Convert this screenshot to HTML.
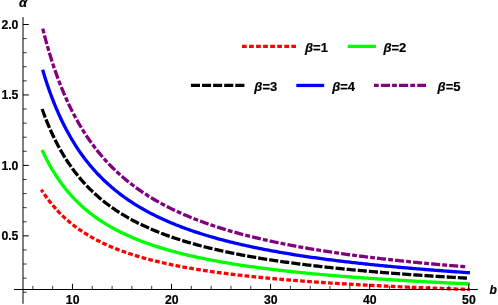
<!DOCTYPE html><html><head><meta charset="utf-8"><style>html,body{margin:0;padding:0;background:#fff}svg{display:block;will-change:transform}text{font-family:"Liberation Sans",sans-serif;font-weight:bold;fill:#000;stroke:#000;stroke-width:0.2px}</style></head><body>
<svg width="498" height="305" viewBox="0 0 498 305">
<rect width="498" height="305" fill="#fff"/>
<polyline points="41.34,189.72 43.00,192.26 44.65,194.69 46.31,197.03 47.96,199.27 49.62,201.43 51.27,203.51 52.93,205.51 54.58,207.43 56.23,209.29 57.89,211.08 59.54,212.81 61.20,214.47 62.85,216.09 64.51,217.64 66.16,219.15 67.82,220.60 69.47,222.01 71.13,223.38 72.78,224.70 74.44,225.98 76.09,227.22 77.75,228.43 79.40,229.60 81.06,230.73 82.71,231.84 84.37,232.91 86.02,233.95 87.67,234.96 89.33,235.95 90.98,236.91 92.64,237.84 94.29,238.75 95.95,239.64 97.60,240.50 99.26,241.34 100.91,242.16 102.57,242.96 104.22,243.74 105.88,244.50 107.53,245.25 109.19,245.97 110.84,246.68 112.50,247.37 114.15,248.05 115.81,248.71 117.46,249.36 119.11,249.99 120.77,250.61 122.42,251.21 124.08,251.81 125.73,252.39 127.39,252.95 129.04,253.51 130.70,254.05 132.35,254.59 134.01,255.11 135.66,255.62 137.32,256.12 138.97,256.62 140.63,257.10 142.28,257.57 143.94,258.04 145.59,258.49 147.25,258.94 148.90,259.38 150.55,259.81 152.21,260.23 153.86,260.65 155.52,261.06 157.17,261.46 158.83,261.85 160.48,262.24 162.14,262.62 163.79,262.99 165.45,263.36 167.10,263.72 168.76,264.08 170.41,264.42 172.07,264.77 173.72,265.11 175.38,265.44 177.03,265.77 178.69,266.09 180.34,266.40 181.99,266.72 183.65,267.02 185.30,267.33 186.96,267.62 188.61,267.92 190.27,268.21 191.92,268.49 193.58,268.77 195.23,269.05 196.89,269.32 198.54,269.59 200.20,269.85 201.85,270.11 203.51,270.37 205.16,270.62 206.82,270.87 208.47,271.12 210.13,271.36 211.78,271.60 213.43,271.84 215.09,272.07 216.74,272.30 218.40,272.53 220.05,272.75 221.71,272.97 223.36,273.19 225.02,273.40 226.67,273.62 228.33,273.83 229.98,274.03 231.64,274.24 233.29,274.44 234.95,274.64 236.60,274.83 238.26,275.03 239.91,275.22 241.57,275.41 243.22,275.60 244.87,275.78 246.53,275.96 248.18,276.14 249.84,276.32 251.49,276.50 253.15,276.67 254.80,276.84 256.46,277.02 258.11,277.18 259.77,277.35 261.42,277.51 263.08,277.68 264.73,277.84 266.39,278.00 268.04,278.15 269.70,278.31 271.35,278.46 273.01,278.61 274.66,278.76 276.31,278.91 277.97,279.06 279.62,279.21 281.28,279.35 282.93,279.49 284.59,279.63 286.24,279.77 287.90,279.91 289.55,280.05 291.21,280.18 292.86,280.31 294.52,280.45 296.17,280.58 297.83,280.71 299.48,280.84 301.14,280.96 302.79,281.09 304.45,281.21 306.10,281.34 307.75,281.46 309.41,281.58 311.06,281.70 312.72,281.82 314.37,281.94 316.03,282.05 317.68,282.17 319.34,282.28 320.99,282.39 322.65,282.51 324.30,282.62 325.96,282.73 327.61,282.83 329.27,282.94 330.92,283.05 332.58,283.16 334.23,283.26 335.89,283.36 337.54,283.47 339.19,283.57 340.85,283.67 342.50,283.77 344.16,283.87 345.81,283.97 347.47,284.07 349.12,284.16 350.78,284.26 352.43,284.35 354.09,284.45 355.74,284.54 357.40,284.63 359.05,284.73 360.71,284.82 362.36,284.91 364.02,285.00 365.67,285.09 367.33,285.17 368.98,285.26 370.63,285.35 372.29,285.43 373.94,285.52 375.60,285.60 377.25,285.69 378.91,285.77 380.56,285.85 382.22,285.93 383.87,286.01 385.53,286.09 387.18,286.17 388.84,286.25 390.49,286.33 392.15,286.41 393.80,286.49 395.46,286.56 397.11,286.64 398.77,286.72 400.42,286.79 402.07,286.86 403.73,286.94 405.38,287.01 407.04,287.08 408.69,287.16 410.35,287.23 412.00,287.30 413.66,287.37 415.31,287.44 416.97,287.51 418.62,287.58 420.28,287.65 421.93,287.71 423.59,287.78 425.24,287.85 426.90,287.91 428.55,287.98 430.21,288.05 431.86,288.11 433.51,288.18 435.17,288.24 436.82,288.30 438.48,288.37 440.13,288.43 441.79,288.49 443.44,288.55 445.10,288.61 446.75,288.68 448.41,288.74 450.06,288.80 451.72,288.86 453.37,288.92 455.03,288.97 456.68,289.03 458.34,289.09 459.99,289.15 461.65,289.21 463.30,289.26 464.95,289.32 466.61,289.38 468.26,289.43 469.92,289.49" fill="none" stroke="#ff0000" stroke-width="3.3" stroke-dasharray="4.72 2.26" stroke-dashoffset="1.7"/>
<polyline points="42.04,149.97 43.69,153.51 45.34,156.89 46.99,160.13 48.64,163.23 50.30,166.21 51.95,169.06 53.60,171.81 55.25,174.44 56.90,176.98 58.56,179.42 60.21,181.77 61.86,184.04 63.51,186.22 65.16,188.33 66.82,190.37 68.47,192.34 70.12,194.24 71.77,196.08 73.42,197.86 75.08,199.59 76.73,201.26 78.38,202.88 80.03,204.45 81.68,205.98 83.34,207.46 84.99,208.89 86.64,210.29 88.29,211.64 89.95,212.96 91.60,214.24 93.25,215.49 94.90,216.71 96.55,217.89 98.21,219.04 99.86,220.16 101.51,221.25 103.16,222.32 104.81,223.36 106.47,224.37 108.12,225.36 109.77,226.33 111.42,227.27 113.07,228.19 114.73,229.09 116.38,229.97 118.03,230.83 119.68,231.67 121.33,232.49 122.99,233.30 124.64,234.08 126.29,234.85 127.94,235.60 129.59,236.34 131.25,237.06 132.90,237.77 134.55,238.46 136.20,239.14 137.85,239.81 139.51,240.46 141.16,241.10 142.81,241.73 144.46,242.34 146.12,242.95 147.77,243.54 149.42,244.12 151.07,244.69 152.72,245.25 154.38,245.80 156.03,246.34 157.68,246.87 159.33,247.39 160.98,247.90 162.64,248.41 164.29,248.90 165.94,249.39 167.59,249.87 169.24,250.34 170.90,250.80 172.55,251.25 174.20,251.70 175.85,252.14 177.50,252.57 179.16,253.00 180.81,253.42 182.46,253.83 184.11,254.23 185.76,254.63 187.42,255.03 189.07,255.42 190.72,255.80 192.37,256.17 194.02,256.54 195.68,256.91 197.33,257.27 198.98,257.62 200.63,257.97 202.29,258.32 203.94,258.65 205.59,258.99 207.24,259.32 208.89,259.64 210.55,259.96 212.20,260.28 213.85,260.59 215.50,260.90 217.15,261.20 218.81,261.50 220.46,261.80 222.11,262.09 223.76,262.38 225.41,262.66 227.07,262.94 228.72,263.22 230.37,263.49 232.02,263.76 233.67,264.03 235.33,264.29 236.98,264.55 238.63,264.81 240.28,265.06 241.93,265.31 243.59,265.56 245.24,265.80 246.89,266.04 248.54,266.28 250.19,266.52 251.85,266.75 253.50,266.98 255.15,267.21 256.80,267.43 258.46,267.65 260.11,267.87 261.76,268.09 263.41,268.30 265.06,268.51 266.72,268.72 268.37,268.93 270.02,269.14 271.67,269.34 273.32,269.54 274.98,269.74 276.63,269.93 278.28,270.13 279.93,270.32 281.58,270.51 283.24,270.70 284.89,270.88 286.54,271.07 288.19,271.25 289.84,271.43 291.50,271.61 293.15,271.78 294.80,271.96 296.45,272.13 298.10,272.30 299.76,272.47 301.41,272.64 303.06,272.81 304.71,272.97 306.36,273.13 308.02,273.29 309.67,273.45 311.32,273.61 312.97,273.77 314.63,273.92 316.28,274.08 317.93,274.23 319.58,274.38 321.23,274.53 322.89,274.68 324.54,274.82 326.19,274.97 327.84,275.11 329.49,275.25 331.15,275.39 332.80,275.53 334.45,275.67 336.10,275.81 337.75,275.94 339.41,276.08 341.06,276.21 342.71,276.34 344.36,276.48 346.01,276.61 347.67,276.73 349.32,276.86 350.97,276.99 352.62,277.11 354.27,277.24 355.93,277.36 357.58,277.48 359.23,277.60 360.88,277.72 362.53,277.84 364.19,277.96 365.84,278.08 367.49,278.19 369.14,278.31 370.80,278.42 372.45,278.54 374.10,278.65 375.75,278.76 377.40,278.87 379.06,278.98 380.71,279.09 382.36,279.20 384.01,279.30 385.66,279.41 387.32,279.52 388.97,279.62 390.62,279.72 392.27,279.83 393.92,279.93 395.58,280.03 397.23,280.13 398.88,280.23 400.53,280.33 402.18,280.43 403.84,280.52 405.49,280.62 407.14,280.72 408.79,280.81 410.44,280.91 412.10,281.00 413.75,281.09 415.40,281.18 417.05,281.28 418.71,281.37 420.36,281.46 422.01,281.55 423.66,281.64 425.31,281.72 426.97,281.81 428.62,281.90 430.27,281.99 431.92,282.07 433.57,282.16 435.23,282.24 436.88,282.32 438.53,282.41 440.18,282.49 441.83,282.57 443.49,282.65 445.14,282.74 446.79,282.82 448.44,282.90 450.09,282.98 451.75,283.05 453.40,283.13 455.05,283.21 456.70,283.29 458.35,283.36 460.01,283.44 461.66,283.52 463.31,283.59 464.96,283.67 466.61,283.74 468.27,283.81 469.92,283.89" fill="none" stroke="#00ff00" stroke-width="3.3"/>
<polyline points="42.09,109.01 43.73,113.51 45.37,117.82 47.01,121.94 48.65,125.88 50.29,129.66 51.93,133.29 53.58,136.77 55.22,140.11 56.86,143.33 58.50,146.42 60.14,149.40 61.78,152.27 63.43,155.04 65.07,157.71 66.71,160.29 68.35,162.78 69.99,165.18 71.63,167.51 73.27,169.76 74.92,171.94 76.56,174.05 78.20,176.10 79.84,178.08 81.48,180.01 83.12,181.88 84.77,183.69 86.41,185.45 88.05,187.16 89.69,188.82 91.33,190.44 92.97,192.01 94.61,193.55 96.26,195.04 97.90,196.49 99.54,197.90 101.18,199.28 102.82,200.62 104.46,201.93 106.11,203.21 107.75,204.46 109.39,205.68 111.03,206.86 112.67,208.03 114.31,209.16 115.95,210.27 117.60,211.35 119.24,212.41 120.88,213.44 122.52,214.46 124.16,215.45 125.80,216.42 127.45,217.36 129.09,218.29 130.73,219.20 132.37,220.09 134.01,220.97 135.65,221.82 137.29,222.66 138.94,223.48 140.58,224.29 142.22,225.08 143.86,225.85 145.50,226.61 147.14,227.36 148.79,228.09 150.43,228.81 152.07,229.51 153.71,230.21 155.35,230.89 156.99,231.56 158.63,232.21 160.28,232.86 161.92,233.49 163.56,234.11 165.20,234.72 166.84,235.33 168.48,235.92 170.13,236.50 171.77,237.07 173.41,237.63 175.05,238.19 176.69,238.73 178.33,239.27 179.97,239.80 181.62,240.32 183.26,240.83 184.90,241.33 186.54,241.83 188.18,242.31 189.82,242.79 191.47,243.27 193.11,243.73 194.75,244.19 196.39,244.65 198.03,245.09 199.67,245.53 201.31,245.97 202.96,246.39 204.60,246.81 206.24,247.23 207.88,247.64 209.52,248.04 211.16,248.44 212.81,248.83 214.45,249.22 216.09,249.60 217.73,249.98 219.37,250.35 221.01,250.72 222.65,251.08 224.30,251.44 225.94,251.79 227.58,252.14 229.22,252.48 230.86,252.82 232.50,253.16 234.15,253.49 235.79,253.82 237.43,254.14 239.07,254.46 240.71,254.77 242.35,255.08 243.99,255.39 245.64,255.69 247.28,255.99 248.92,256.29 250.56,256.58 252.20,256.87 253.84,257.16 255.49,257.44 257.13,257.72 258.77,258.00 260.41,258.27 262.05,258.54 263.69,258.81 265.33,259.07 266.98,259.33 268.62,259.59 270.26,259.85 271.90,260.10 273.54,260.35 275.18,260.60 276.83,260.84 278.47,261.08 280.11,261.32 281.75,261.56 283.39,261.79 285.03,262.02 286.67,262.25 288.32,262.48 289.96,262.70 291.60,262.93 293.24,263.15 294.88,263.36 296.52,263.58 298.17,263.79 299.81,264.00 301.45,264.21 303.09,264.42 304.73,264.62 306.37,264.83 308.01,265.03 309.66,265.23 311.30,265.42 312.94,265.62 314.58,265.81 316.22,266.00 317.86,266.19 319.51,266.38 321.15,266.57 322.79,266.75 324.43,266.93 326.07,267.11 327.71,267.29 329.35,267.47 331.00,267.65 332.64,267.82 334.28,267.99 335.92,268.16 337.56,268.33 339.20,268.50 340.85,268.67 342.49,268.83 344.13,269.00 345.77,269.16 347.41,269.32 349.05,269.48 350.69,269.64 352.34,269.79 353.98,269.95 355.62,270.10 357.26,270.25 358.90,270.41 360.54,270.56 362.19,270.71 363.83,270.85 365.47,271.00 367.11,271.14 368.75,271.29 370.39,271.43 372.03,271.57 373.68,271.71 375.32,271.85 376.96,271.99 378.60,272.13 380.24,272.26 381.88,272.40 383.53,272.53 385.17,272.66 386.81,272.79 388.45,272.92 390.09,273.05 391.73,273.18 393.37,273.31 395.02,273.44 396.66,273.56 398.30,273.69 399.94,273.81 401.58,273.93 403.22,274.05 404.87,274.18 406.51,274.30 408.15,274.41 409.79,274.53 411.43,274.65 413.07,274.77 414.71,274.88 416.36,275.00 418.00,275.11 419.64,275.22 421.28,275.33 422.92,275.45 424.56,275.56 426.21,275.67 427.85,275.77 429.49,275.88 431.13,275.99 432.77,276.10 434.41,276.20 436.05,276.31 437.70,276.41 439.34,276.51 440.98,276.62 442.62,276.72 444.26,276.82 445.90,276.92 447.55,277.02 449.19,277.12 450.83,277.22 452.47,277.32 454.11,277.41 455.75,277.51 457.39,277.61 459.04,277.70 460.68,277.80 462.32,277.89 463.96,277.98 465.60,278.08 467.24,278.17" fill="none" stroke="#000000" stroke-width="3.3" stroke-dasharray="9.15 2.0" stroke-dashoffset="0"/>
<polyline points="42.63,69.79 44.28,75.23 45.93,80.43 47.58,85.41 49.23,90.17 50.88,94.72 52.53,99.09 54.18,103.29 55.83,107.31 57.48,111.18 59.13,114.91 60.78,118.49 62.43,121.94 64.08,125.27 65.73,128.48 67.38,131.58 69.03,134.57 70.68,137.46 72.33,140.25 73.98,142.96 75.63,145.57 77.27,148.11 78.92,150.56 80.57,152.95 82.22,155.25 83.87,157.49 85.52,159.67 87.17,161.78 88.82,163.83 90.47,165.83 92.12,167.77 93.77,169.65 95.42,171.49 97.07,173.27 98.72,175.01 100.37,176.71 102.02,178.36 103.67,179.97 105.32,181.54 106.97,183.07 108.62,184.56 110.27,186.02 111.92,187.44 113.57,188.83 115.22,190.19 116.87,191.52 118.52,192.82 120.17,194.08 121.82,195.32 123.47,196.53 125.12,197.72 126.77,198.88 128.42,200.02 130.07,201.13 131.72,202.22 133.37,203.28 135.02,204.33 136.67,205.35 138.32,206.36 139.97,207.34 141.62,208.30 143.27,209.25 144.92,210.18 146.57,211.09 148.21,211.98 149.86,212.85 151.51,213.71 153.16,214.56 154.81,215.39 156.46,216.20 158.11,217.00 159.76,217.78 161.41,218.56 163.06,219.31 164.71,220.06 166.36,220.79 168.01,221.51 169.66,222.22 171.31,222.91 172.96,223.60 174.61,224.27 176.26,224.93 177.91,225.59 179.56,226.23 181.21,226.86 182.86,227.48 184.51,228.09 186.16,228.69 187.81,229.29 189.46,229.87 191.11,230.44 192.76,231.01 194.41,231.57 196.06,232.12 197.71,232.66 199.36,233.19 201.01,233.72 202.66,234.24 204.31,234.75 205.96,235.25 207.61,235.75 209.26,236.24 210.91,236.72 212.56,237.20 214.21,237.67 215.86,238.13 217.50,238.59 219.15,239.04 220.80,239.48 222.45,239.92 224.10,240.36 225.75,240.78 227.40,241.20 229.05,241.62 230.70,242.03 232.35,242.44 234.00,242.84 235.65,243.24 237.30,243.63 238.95,244.01 240.60,244.39 242.25,244.77 243.90,245.14 245.55,245.51 247.20,245.87 248.85,246.23 250.50,246.59 252.15,246.94 253.80,247.28 255.45,247.62 257.10,247.96 258.75,248.30 260.40,248.63 262.05,248.95 263.70,249.28 265.35,249.60 267.00,249.91 268.65,250.22 270.30,250.53 271.95,250.84 273.60,251.14 275.25,251.44 276.90,251.73 278.55,252.03 280.20,252.32 281.85,252.60 283.50,252.88 285.15,253.16 286.80,253.44 288.44,253.72 290.09,253.99 291.74,254.25 293.39,254.52 295.04,254.78 296.69,255.04 298.34,255.30 299.99,255.56 301.64,255.81 303.29,256.06 304.94,256.31 306.59,256.55 308.24,256.79 309.89,257.03 311.54,257.27 313.19,257.51 314.84,257.74 316.49,257.97 318.14,258.20 319.79,258.43 321.44,258.65 323.09,258.87 324.74,259.09 326.39,259.31 328.04,259.53 329.69,259.74 331.34,259.95 332.99,260.17 334.64,260.37 336.29,260.58 337.94,260.78 339.59,260.99 341.24,261.19 342.89,261.39 344.54,261.58 346.19,261.78 347.84,261.97 349.49,262.17 351.14,262.36 352.79,262.55 354.44,262.73 356.09,262.92 357.73,263.10 359.38,263.29 361.03,263.47 362.68,263.65 364.33,263.82 365.98,264.00 367.63,264.17 369.28,264.35 370.93,264.52 372.58,264.69 374.23,264.86 375.88,265.03 377.53,265.19 379.18,265.36 380.83,265.52 382.48,265.69 384.13,265.85 385.78,266.01 387.43,266.16 389.08,266.32 390.73,266.48 392.38,266.63 394.03,266.79 395.68,266.94 397.33,267.09 398.98,267.24 400.63,267.39 402.28,267.54 403.93,267.68 405.58,267.83 407.23,267.97 408.88,268.12 410.53,268.26 412.18,268.40 413.83,268.54 415.48,268.68 417.13,268.82 418.78,268.95 420.43,269.09 422.08,269.23 423.73,269.36 425.38,269.49 427.02,269.62 428.67,269.76 430.32,269.89 431.97,270.01 433.62,270.14 435.27,270.27 436.92,270.40 438.57,270.52 440.22,270.65 441.87,270.77 443.52,270.89 445.17,271.02 446.82,271.14 448.47,271.26 450.12,271.38 451.77,271.50 453.42,271.61 455.07,271.73 456.72,271.85 458.37,271.96 460.02,272.08 461.67,272.19 463.32,272.30 464.97,272.42 466.62,272.53 468.27,272.64 469.92,272.75" fill="none" stroke="#0000ff" stroke-width="3.3"/>
<polyline points="42.73,28.64 44.36,35.01 46.00,41.11 47.63,46.93 49.26,52.50 50.90,57.84 52.53,62.95 54.16,67.86 55.80,72.58 57.43,77.11 59.06,81.47 60.70,85.67 62.33,89.71 63.96,93.61 65.60,97.37 67.23,100.99 68.86,104.50 70.50,107.88 72.13,111.16 73.76,114.32 75.40,117.39 77.03,120.36 78.66,123.24 80.30,126.02 81.93,128.73 83.56,131.35 85.20,133.90 86.83,136.38 88.46,138.78 90.10,141.12 91.73,143.39 93.36,145.60 95.00,147.76 96.63,149.85 98.26,151.89 99.90,153.88 101.53,155.81 103.16,157.70 104.80,159.54 106.43,161.34 108.06,163.09 109.69,164.80 111.33,166.47 112.96,168.10 114.59,169.69 116.23,171.25 117.86,172.77 119.49,174.26 121.13,175.71 122.76,177.13 124.39,178.52 126.03,179.89 127.66,181.22 129.29,182.52 130.93,183.80 132.56,185.05 134.19,186.28 135.83,187.48 137.46,188.66 139.09,189.82 140.73,190.95 142.36,192.06 143.99,193.15 145.63,194.21 147.26,195.26 148.89,196.29 150.53,197.30 152.16,198.29 153.79,199.27 155.43,200.22 157.06,201.16 158.69,202.08 160.33,202.99 161.96,203.88 163.59,204.76 165.23,205.62 166.86,206.46 168.49,207.29 170.13,208.11 171.76,208.92 173.39,209.71 175.03,210.48 176.66,211.25 178.29,212.00 179.93,212.75 181.56,213.48 183.19,214.19 184.83,214.90 186.46,215.60 188.09,216.29 189.73,216.96 191.36,217.63 192.99,218.28 194.63,218.93 196.26,219.57 197.89,220.19 199.53,220.81 201.16,221.42 202.79,222.02 204.43,222.61 206.06,223.20 207.69,223.77 209.33,224.34 210.96,224.90 212.59,225.45 214.23,226.00 215.86,226.54 217.49,227.07 219.13,227.59 220.76,228.11 222.39,228.62 224.03,229.12 225.66,229.62 227.29,230.11 228.93,230.59 230.56,231.07 232.19,231.54 233.83,232.00 235.46,232.46 237.09,232.92 238.73,233.37 240.36,233.81 241.99,234.25 243.63,234.68 245.26,235.11 246.89,235.53 248.53,235.95 250.16,236.36 251.79,236.77 253.43,237.17 255.06,237.57 256.69,237.96 258.33,238.35 259.96,238.73 261.59,239.11 263.23,239.49 264.86,239.86 266.49,240.23 268.13,240.59 269.76,240.95 271.39,241.31 273.03,241.66 274.66,242.01 276.29,242.35 277.93,242.69 279.56,243.03 281.19,243.36 282.83,243.69 284.46,244.02 286.09,244.34 287.73,244.66 289.36,244.98 290.99,245.29 292.63,245.60 294.26,245.90 295.89,246.21 297.53,246.51 299.16,246.81 300.79,247.10 302.43,247.39 304.06,247.68 305.69,247.97 307.33,248.25 308.96,248.53 310.59,248.81 312.23,249.08 313.86,249.35 315.49,249.62 317.13,249.89 318.76,250.15 320.39,250.42 322.03,250.68 323.66,250.93 325.29,251.19 326.93,251.44 328.56,251.69 330.19,251.94 331.83,252.18 333.46,252.43 335.09,252.67 336.73,252.91 338.36,253.14 339.99,253.38 341.63,253.61 343.26,253.84 344.89,254.07 346.53,254.29 348.16,254.52 349.79,254.74 351.43,254.96 353.06,255.18 354.69,255.40 356.33,255.61 357.96,255.83 359.59,256.04 361.23,256.25 362.86,256.46 364.49,256.66 366.13,256.87 367.76,257.07 369.39,257.27 371.03,257.47 372.66,257.67 374.29,257.86 375.93,258.06 377.56,258.25 379.19,258.44 380.83,258.63 382.46,258.82 384.09,259.01 385.73,259.19 387.36,259.38 388.99,259.56 390.63,259.74 392.26,259.92 393.89,260.10 395.53,260.27 397.16,260.45 398.79,260.62 400.43,260.80 402.06,260.97 403.69,261.14 405.33,261.31 406.96,261.47 408.59,261.64 410.23,261.81 411.86,261.97 413.49,262.13 415.13,262.29 416.76,262.45 418.39,262.61 420.03,262.77 421.66,262.93 423.29,263.08 424.92,263.24 426.56,263.39 428.19,263.54 429.82,263.70 431.46,263.85 433.09,263.99 434.72,264.14 436.36,264.29 437.99,264.44 439.62,264.58 441.26,264.72 442.89,264.87 444.52,265.01 446.16,265.15 447.79,265.29 449.42,265.43 451.06,265.57 452.69,265.70 454.32,265.84 455.96,265.98 457.59,266.11 459.22,266.24 460.86,266.38 462.49,266.51 464.12,266.64 465.76,266.77" fill="none" stroke="#800080" stroke-width="3.3" stroke-dasharray="4.9 2.08 9.07 2.08" stroke-dashoffset="0"/>
<g stroke="#000" stroke-width="1" fill="none">
<line x1="23.0" y1="17.1" x2="23.0" y2="303.8"/>
<line x1="13.9" y1="289.5" x2="477.8" y2="289.5"/>
</g>
<g stroke="#000" fill="none">
<line x1="32.82" y1="289.5" x2="32.82" y2="285.9" stroke-width="0.8"/>
<line x1="52.64" y1="289.5" x2="52.64" y2="285.9" stroke-width="0.8"/>
<line x1="72.45" y1="289.5" x2="72.45" y2="283.8" stroke-width="1.0"/>
<line x1="92.26" y1="289.5" x2="92.26" y2="285.9" stroke-width="0.8"/>
<line x1="112.08" y1="289.5" x2="112.08" y2="285.9" stroke-width="0.8"/>
<line x1="131.89" y1="289.5" x2="131.89" y2="285.9" stroke-width="0.8"/>
<line x1="151.71" y1="289.5" x2="151.71" y2="285.9" stroke-width="0.8"/>
<line x1="171.52" y1="289.5" x2="171.52" y2="283.8" stroke-width="1.0"/>
<line x1="191.33" y1="289.5" x2="191.33" y2="285.9" stroke-width="0.8"/>
<line x1="211.15" y1="289.5" x2="211.15" y2="285.9" stroke-width="0.8"/>
<line x1="230.96" y1="289.5" x2="230.96" y2="285.9" stroke-width="0.8"/>
<line x1="250.78" y1="289.5" x2="250.78" y2="285.9" stroke-width="0.8"/>
<line x1="270.59" y1="289.5" x2="270.59" y2="283.8" stroke-width="1.0"/>
<line x1="290.40" y1="289.5" x2="290.40" y2="285.9" stroke-width="0.8"/>
<line x1="310.22" y1="289.5" x2="310.22" y2="285.9" stroke-width="0.8"/>
<line x1="330.03" y1="289.5" x2="330.03" y2="285.9" stroke-width="0.8"/>
<line x1="349.85" y1="289.5" x2="349.85" y2="285.9" stroke-width="0.8"/>
<line x1="369.66" y1="289.5" x2="369.66" y2="283.8" stroke-width="1.0"/>
<line x1="389.47" y1="289.5" x2="389.47" y2="285.9" stroke-width="0.8"/>
<line x1="409.29" y1="289.5" x2="409.29" y2="285.9" stroke-width="0.8"/>
<line x1="429.10" y1="289.5" x2="429.10" y2="285.9" stroke-width="0.8"/>
<line x1="448.92" y1="289.5" x2="448.92" y2="285.9" stroke-width="0.8"/>
<line x1="468.73" y1="289.5" x2="468.73" y2="283.8" stroke-width="1.0"/>
<line x1="23.0" y1="292.21" x2="26.6" y2="292.21" stroke-width="0.8"/>
<line x1="23.0" y1="278.12" x2="26.6" y2="278.12" stroke-width="0.8"/>
<line x1="23.0" y1="264.03" x2="26.6" y2="264.03" stroke-width="0.8"/>
<line x1="23.0" y1="249.94" x2="26.6" y2="249.94" stroke-width="0.8"/>
<line x1="23.0" y1="235.85" x2="28.8" y2="235.85" stroke-width="1.0"/>
<line x1="23.0" y1="221.76" x2="26.6" y2="221.76" stroke-width="0.8"/>
<line x1="23.0" y1="207.67" x2="26.6" y2="207.67" stroke-width="0.8"/>
<line x1="23.0" y1="193.58" x2="26.6" y2="193.58" stroke-width="0.8"/>
<line x1="23.0" y1="179.49" x2="26.6" y2="179.49" stroke-width="0.8"/>
<line x1="23.0" y1="165.40" x2="28.8" y2="165.40" stroke-width="1.0"/>
<line x1="23.0" y1="151.31" x2="26.6" y2="151.31" stroke-width="0.8"/>
<line x1="23.0" y1="137.22" x2="26.6" y2="137.22" stroke-width="0.8"/>
<line x1="23.0" y1="123.13" x2="26.6" y2="123.13" stroke-width="0.8"/>
<line x1="23.0" y1="109.04" x2="26.6" y2="109.04" stroke-width="0.8"/>
<line x1="23.0" y1="94.95" x2="28.8" y2="94.95" stroke-width="1.0"/>
<line x1="23.0" y1="80.86" x2="26.6" y2="80.86" stroke-width="0.8"/>
<line x1="23.0" y1="66.77" x2="26.6" y2="66.77" stroke-width="0.8"/>
<line x1="23.0" y1="52.68" x2="26.6" y2="52.68" stroke-width="0.8"/>
<line x1="23.0" y1="38.59" x2="26.6" y2="38.59" stroke-width="0.8"/>
<line x1="23.0" y1="24.50" x2="28.8" y2="24.50" stroke-width="1.0"/>
</g>
<text transform="translate(72.65,303.60) scale(0.98,1)" font-size="12.5" text-anchor="middle">10</text>
<text transform="translate(171.72,303.60) scale(0.98,1)" font-size="12.5" text-anchor="middle">20</text>
<text transform="translate(270.79,303.60) scale(0.98,1)" font-size="12.5" text-anchor="middle">30</text>
<text transform="translate(369.86,303.60) scale(0.98,1)" font-size="12.5" text-anchor="middle">40</text>
<text transform="translate(468.93,303.60) scale(0.98,1)" font-size="12.5" text-anchor="middle">50</text>
<text transform="translate(18.40,240.20) scale(0.98,1)" font-size="12.5" text-anchor="end">0.5</text>
<text transform="translate(18.40,169.75) scale(0.98,1)" font-size="12.5" text-anchor="end">1.0</text>
<text transform="translate(18.40,99.30) scale(0.98,1)" font-size="12.5" text-anchor="end">1.5</text>
<text transform="translate(18.40,28.85) scale(0.98,1)" font-size="12.5" text-anchor="end">2.0</text>
<text transform="translate(19.00,6.90) scale(1.06,1)" font-size="12.3" text-anchor="start" font-style="italic">α</text>
<text transform="translate(489.50,293.70) scale(0.96,1)" font-size="12.5" text-anchor="start" font-style="italic">b</text>
<line x1="242.0" y1="46.35" x2="296.0" y2="46.35" stroke="#ff0000" stroke-width="3.3" stroke-dasharray="4.75 2.3"/>
<text transform="translate(305.00,51.50) scale(1.0,1)" font-size="13" text-anchor="start"><tspan font-style="italic">β</tspan>=1</text>
<line x1="347.75" y1="46.35" x2="375.9" y2="46.35" stroke="#00ff00" stroke-width="3.3"/>
<text transform="translate(383.40,51.50) scale(1.0,1)" font-size="13" text-anchor="start"><tspan font-style="italic">β</tspan>=2</text>
<line x1="190.9" y1="85.45" x2="244.4" y2="85.45" stroke="#000" stroke-width="3.3" stroke-dasharray="9.1 2.0"/>
<text transform="translate(254.30,90.60) scale(1.0,1)" font-size="13" text-anchor="start"><tspan font-style="italic">β</tspan>=3</text>
<line x1="296.3" y1="85.45" x2="324.2" y2="85.45" stroke="#0000ff" stroke-width="3.3"/>
<text transform="translate(332.20,90.60) scale(1.0,1)" font-size="13" text-anchor="start"><tspan font-style="italic">β</tspan>=4</text>
<line x1="373.9" y1="85.45" x2="426.0" y2="85.45" stroke="#800080" stroke-width="3.3" stroke-dasharray="4.8 2.15 9.1 2.15"/>
<text transform="translate(437.60,90.60) scale(1.0,1)" font-size="13" text-anchor="start"><tspan font-style="italic">β</tspan>=5</text>
</svg></body></html>
